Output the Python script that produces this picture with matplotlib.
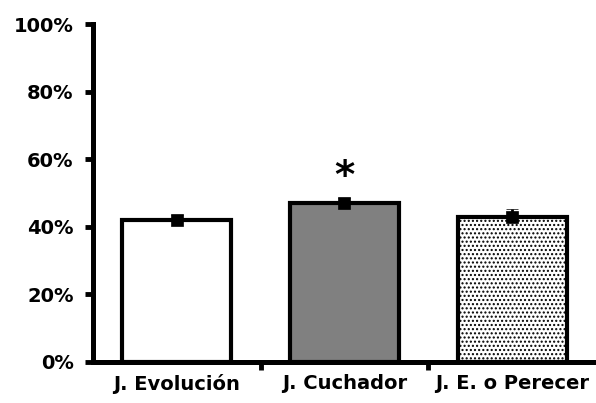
import matplotlib.pyplot as plt

plt.rcParams['font.family'] = ['DejaVu Sans']
plt.rcParams['font.weight'] = 'bold'
plt.rcParams['hatch.color'] = '#808080'
plt.rcParams['hatch.linewidth'] = 1.0

# Porcentaje medio por juego, con su error estandar (solo hacia arriba)
juegos = ['J. Evolución', 'J. Cuchador', 'J. E. o Perecer']
valores = [42, 47, 43]
errores = [1.5, 1.5, 2.4]
colores = ['white', '#808080', 'white']
tramas = [None, None, '....']
ticks_y = [0, 20, 40, 60, 80, 100]

fig = plt.figure(figsize=(5.96, 4.03), dpi=100)
ax = fig.add_axes([0.156, 0.102, 0.844, 0.838])

x = list(range(len(juegos)))
for i in x:
    ax.bar(i, valores[i], width=0.65, color=colores[i], edgecolor='black',
           linewidth=3, hatch=tramas[i], zorder=2)
ax.errorbar(x, valores, yerr=[[0] * len(errores), errores], fmt='s',
            color='black', markersize=8.6, markeredgewidth=0.5,
            elinewidth=2, capsize=4.3, capthick=2.5, zorder=3)

# asterisco de significancia
ax.text(1, 54.8, '*', ha='center', va='center', fontsize=28)

ax.set_xlim(-0.5, 2.5)
ax.set_ylim(0, 100)
ax.set_yticks(ticks_y)
ax.set_yticklabels([f'{t}%' for t in ticks_y], fontsize=14)
ax.set_xticks(x)
ax.set_xticklabels(juegos, fontsize=14)
ax.tick_params(axis='x', which='major', length=0, pad=9)
ax.set_xticks([0.5, 1.5], minor=True)
ax.tick_params(axis='x', which='minor', length=6, width=3.5, direction='out')
ax.tick_params(axis='y', length=6, width=3.5, direction='out', pad=8)

for s in ['top', 'right']:
    ax.spines[s].set_visible(False)
for s in ['left', 'bottom']:
    ax.spines[s].set_linewidth(3.6)

fig.savefig('out.png', dpi=100)
